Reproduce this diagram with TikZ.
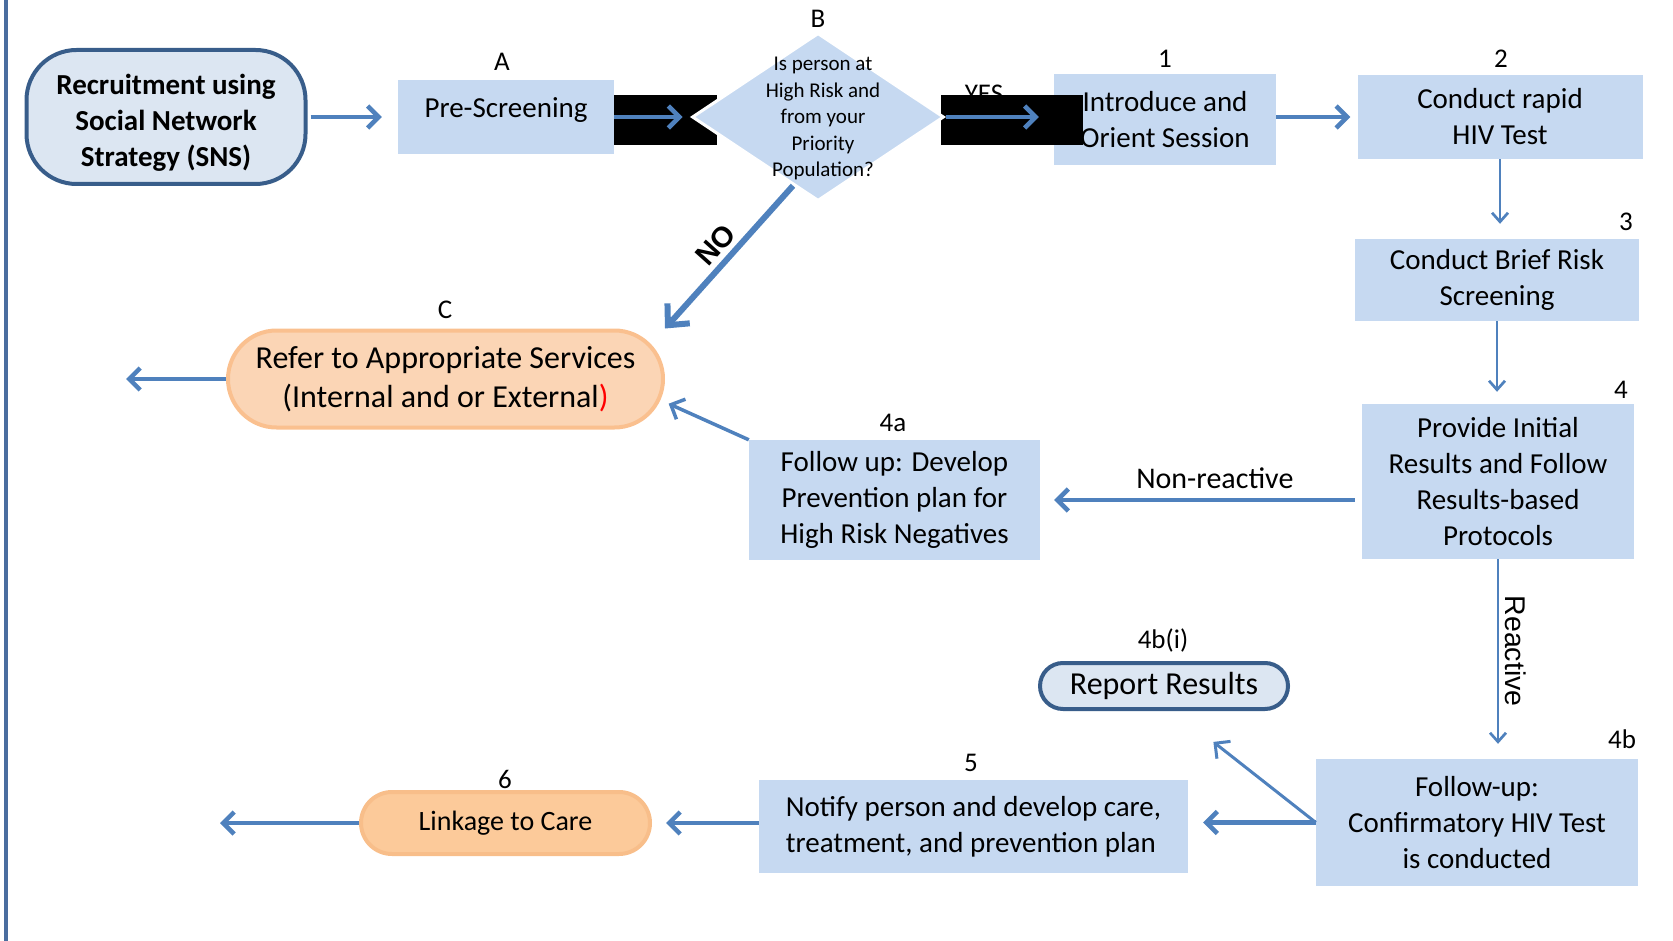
\documentclass[tikz,border=0pt]{standalone}
\usepackage{fontspec}
\setmainfont{Carlito}
\newfontfamily\arialfont{Liberation Sans}
\usepackage{tikz}
\usetikzlibrary{shapes.geometric,arrows.meta,positioning}

\definecolor{boxblue}{HTML}{C6D9F1}
\definecolor{arrblue}{HTML}{4F81BD}
\definecolor{snsfill}{HTML}{DCE6F2}
\definecolor{snsdraw}{HTML}{385D8A}
\definecolor{reffill}{HTML}{FBD5B5}
\definecolor{refdraw}{HTML}{FAC08F}
\definecolor{linkfill}{HTML}{FCCA9A}
\definecolor{linkdraw}{HTML}{F8BE8A}
\definecolor{barblue}{HTML}{4A6D9F}

\begin{document}
\begin{tikzpicture}[x=1pt, y=-1pt,
  box/.style={fill=boxblue, font=\fontsize{29}{36}\selectfont, align=center, inner sep=0pt},
  num/.style={font=\fontsize{27}{30}\selectfont, inner sep=0pt},
  dmd/.style={diamond, fill=boxblue, draw=white, line width=3pt, inner sep=0pt},
  qtext/.style={font=\fontsize{21}{26.5}\selectfont, align=center, inner sep=0pt},
  pill/.style={rounded corners=#1, line width=4pt, align=center, inner sep=0pt},
  arr/.style={-{Straight Barb[length=11pt, width=22pt]}, draw=arrblue, line width=4.5pt},
  thinarr/.style={-{Straight Barb[length=9pt, width=16pt]}, draw=arrblue, line width=2.7pt},
  lbl/.style={font=\fontsize{30}{34}\selectfont, inner sep=9pt},
  rlbl/.style={font=\arialfont\fontsize{28.5}{30}\selectfont, inner sep=6pt},
  nolbl/.style={font=\arialfont\bfseries\fontsize{29}{30}\selectfont, inner sep=5pt}
]
\useasboundingbox (0,0) rectangle (1673,941);

% left margin bar
\draw[line width=4pt, draw=barblue] (6,0) -- (6,941);

% Recruitment
\node[pill=50pt, fill=snsfill, draw=snsdraw, minimum width=279pt, minimum height=134pt] (sns) at (166,117) {};
\node[font=\bfseries\fontsize{29}{36}\selectfont, align=center, inner sep=0pt] (snst) at (166,123)
      {Recruitment using\\Social Network\\Strategy (SNS)};

% A
\node[box, text depth=19pt, minimum width=216pt, minimum height=74pt] (pre) at (506,117) {Pre-Screening};
\node[num] (nA) at (502,62) {A};

% 1
\node[box, minimum width=222pt, minimum height=91pt] (one) at (1165,119.5) {Introduce and\\Orient Session};
\node[num] (n1) at (1165,59) {1};
\node[num] (yes) at (984,94) {YES};

% black bands
\fill[black] (614,95) rectangle (717,145);
\fill[black] (941,95) rectangle (1083,145);

% B
\node[dmd, minimum width=252pt, minimum height=168pt] (dec) at (818,117) {};
\node[qtext] (decq) at (823,118.5) {Is person at\\High Risk and\\from your\\Priority\\Population?};
\node[num] (nB) at (818,19) {B};

% 2, 3, 4
\node[box, minimum width=285pt, minimum height=84pt] (two) at (1500,117) {Conduct rapid\\HIV Test};
\node[num] (n2) at (1501,59) {2};
\node[box, minimum width=284pt, minimum height=82pt] (three) at (1497,280) {Conduct Brief Risk\\Screening};
\node[num] (n3) at (1626,222) {3};
\node[box, minimum width=272pt, minimum height=155pt] (pi) at (1498,481.5)
      {Provide Initial\\Results and Follow\\Results-based\\Protocols};
\node[num] (n4) at (1621,390) {4};

% 4a
\node[box, minimum width=291pt, minimum height=120pt] (fa) at (894.5,500)
      {Follow up: Develop\\Prevention plan for\\High Risk Negatives};
\node[num] (n4a) at (893,423) {4a};

% C
\node[pill=48.5pt, fill=reffill, draw=refdraw, font=\fontsize{32}{39}\selectfont,
      minimum width=435pt, minimum height=97pt] (cc) at (445.5,379)
      {Refer to Appropriate Services\\(Internal and or External\textcolor{red}{)}};
\node[num] (nC) at (445,310) {C};
\coordinate (outc) at (126,379);

% 4b, 4b(i)
\node[box, minimum width=322pt, minimum height=127pt] (fb) at (1477,822.5)
      {Follow-up:\\Confirmatory HIV Test\\is conducted};
\node[num] (n4b) at (1622,739) {4b};
\node[pill=23pt, fill=snsfill, draw=snsdraw, font=\fontsize{32}{36}\selectfont,
      minimum width=248pt, minimum height=46pt] (rr) at (1164,686) {Report Results};
\node[num] (n4bi) at (1163,640) {4b(i)};

% 5, 6
\node[box, align=left, minimum width=429pt, minimum height=93pt] (five) at (973.5,826.5)
      {Notify person and develop care,\\treatment, and prevention plan};
\node[num] (n5) at (971,763) {5};
\node[pill=31pt, fill=linkfill, draw=linkdraw, font=\fontsize{28}{32}\selectfont,
      minimum width=289pt, minimum height=62pt] (six) at (505.5,823) {Linkage to Care};
\node[num] (n6) at (505,779) {6};
\coordinate (out6) at (220,823);

% connectors, top row
\draw[arr, shorten <=3pt, shorten >=16pt] (sns) -- (pre);
\draw[arr, shorten >=8pt] (pre.east) -- (dec.west);
\draw[arr, shorten >=15pt] (dec.east) -- (dec.east -| one.west);
\draw[arr, shorten >=7pt] (one.east |- two.west) -- (two.west);

% right column
\draw[thinarr, shorten >=15pt] (two.south) -- (two.south |- three.north);
\draw[thinarr, shorten >=12pt] (three.south) -- (three.south |- pi.north);
\draw[thinarr, shorten >=15pt] (pi.south) --
  node[rlbl, rotate=-90, anchor=south, pos=0.46]{Reactive} (pi.south |- fb.north);

% results branches
\draw[arr, shorten <=7pt, shorten >=14pt] (fa.east -| pi.west) --
  node[lbl, above, pos=0.457]{Non-reactive} (fa.east);
\draw[arr, line width=3.5pt, shorten >=4pt] (fa.north west) -- (cc.-6.6);
\draw[arr, line width=6pt, -{Straight Barb[length=16pt, width=30pt]}]
  (dec.250.6) -- node[nolbl, sloped, above, pos=0.5]{NO} (cc.north east);
\draw[arr] (cc.west) -- (outc);

% bottom row
\draw[arr, line width=3pt, shorten >=50pt] (fb.west) -- (rr.-68.6);
\draw[arr, shorten >=15pt] (fb.west) -- (fb.west -| five.east);
\draw[arr, shorten >=14pt] (six.east -| five.west) -- (six.east);
\draw[arr] (six.west) -- (out6);
\end{tikzpicture}
\end{document}
